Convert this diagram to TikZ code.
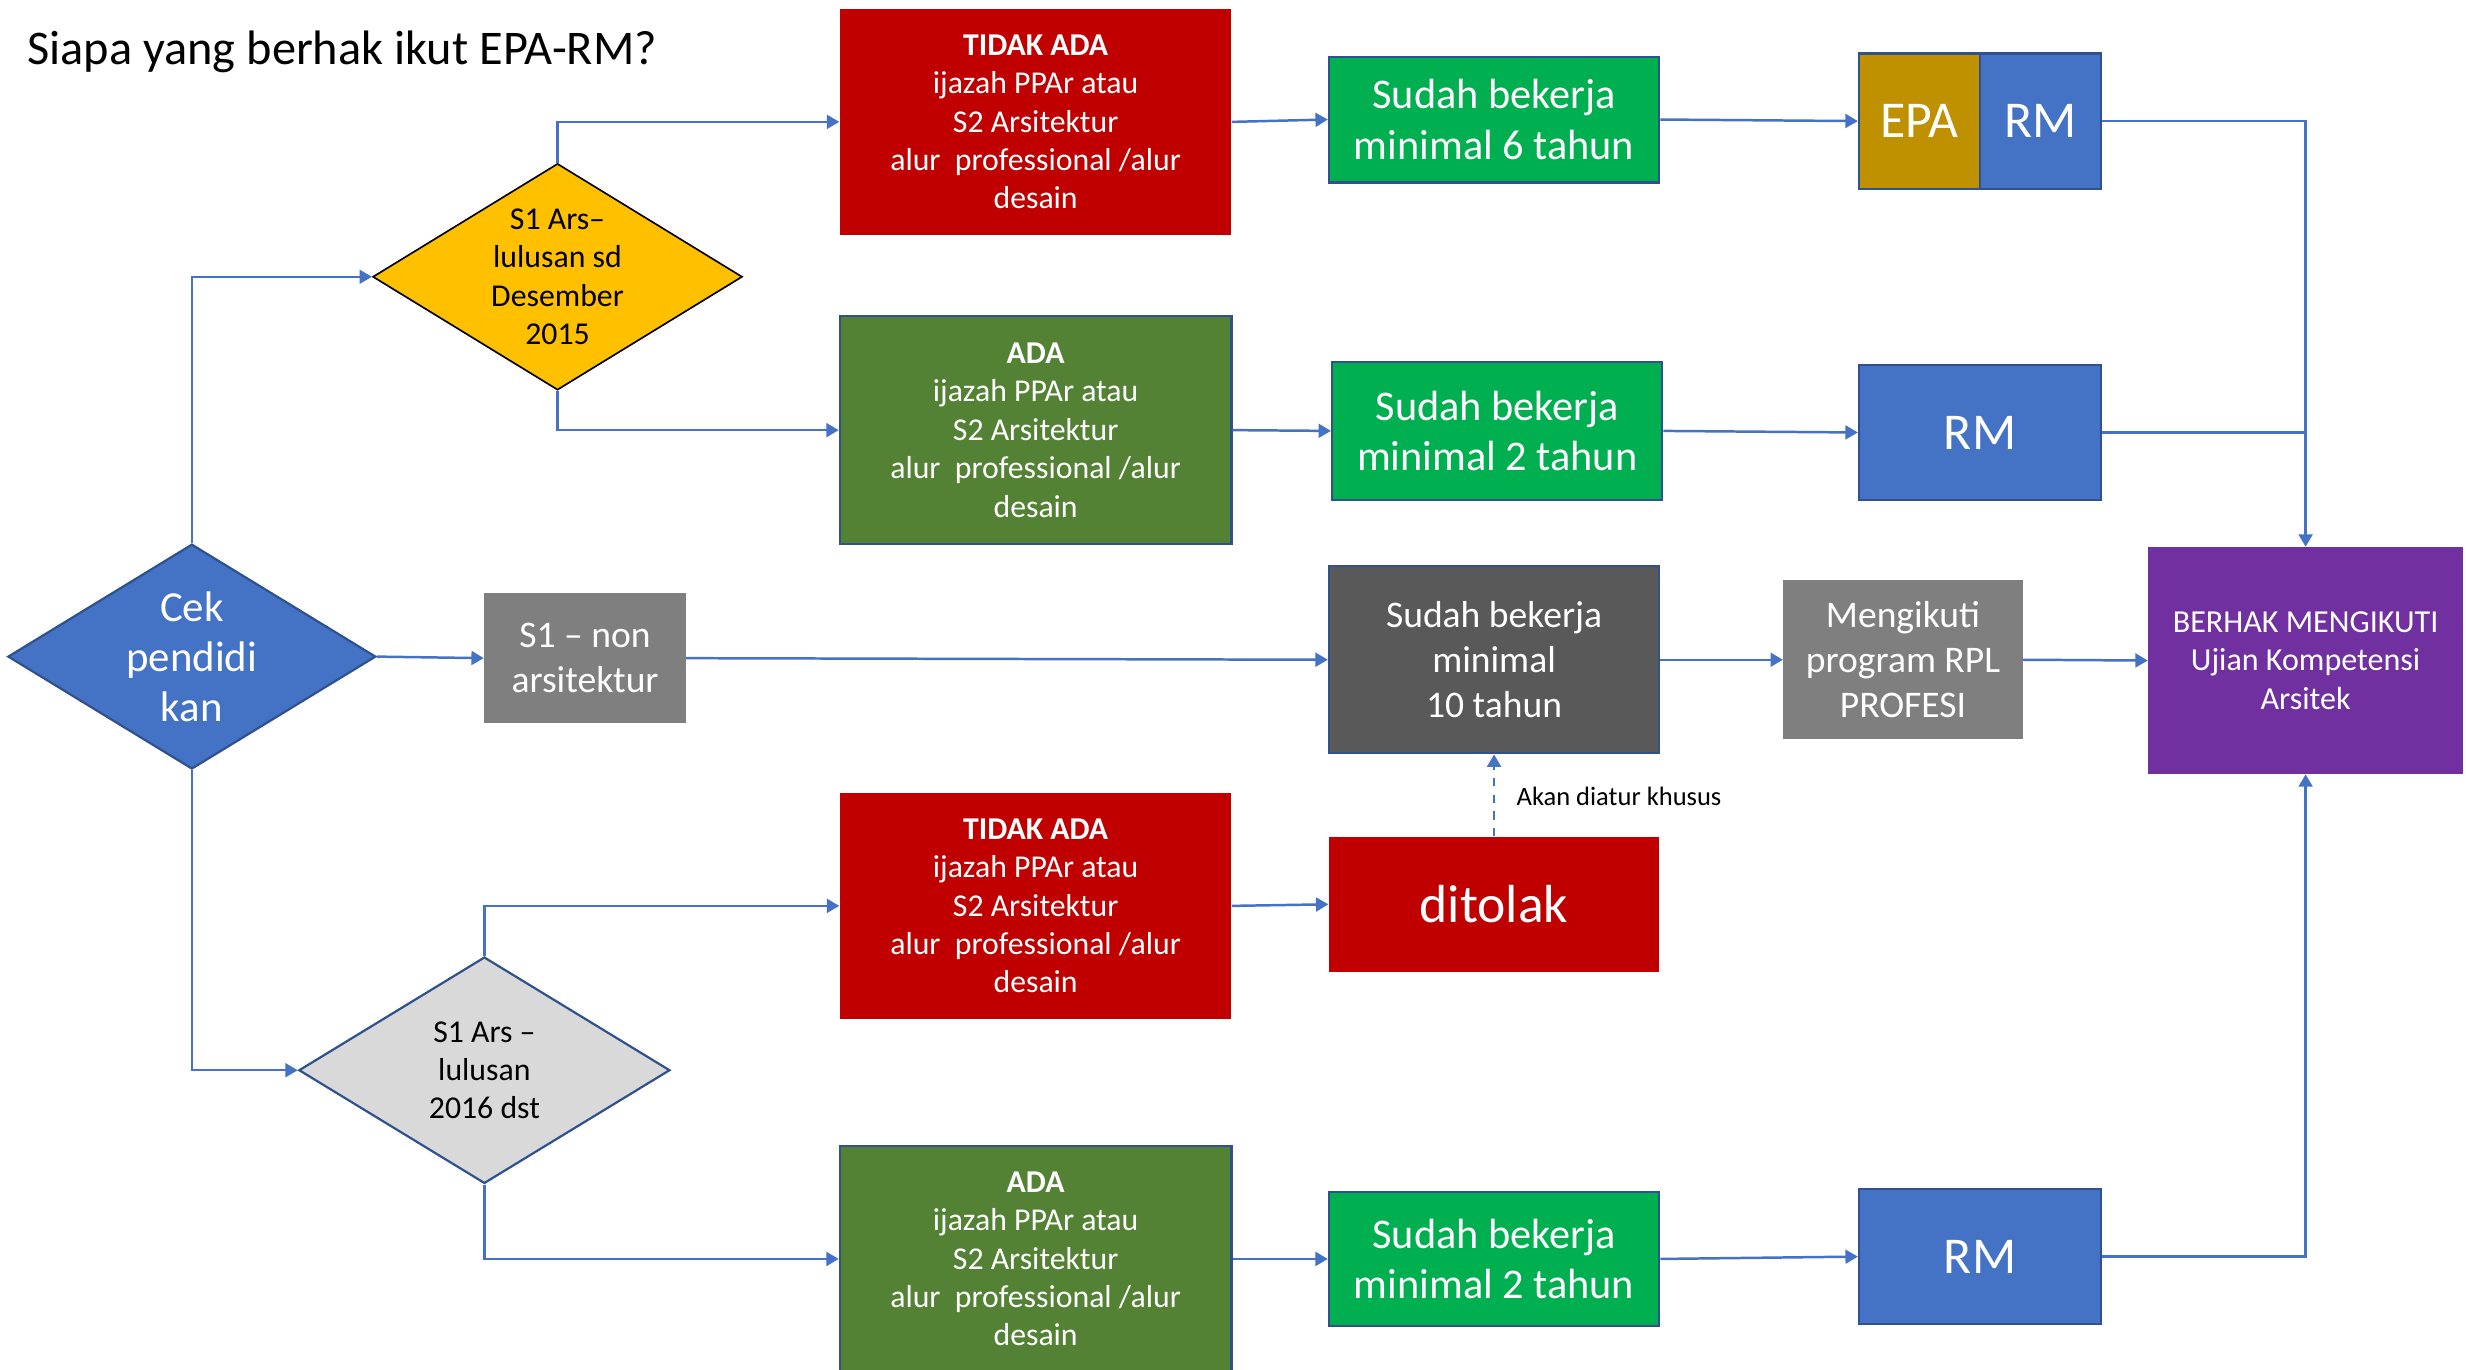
\documentclass[tikz,border=0pt]{standalone}
\usepackage{fontspec}
\setmainfont{Carlito}
\usetikzlibrary{arrows.meta,shapes.geometric}
\definecolor{cblue}{HTML}{4472C4}
\definecolor{bdark}{HTML}{2F528F}
\definecolor{cred}{HTML}{C00000}
\definecolor{dgreen}{HTML}{548235}
\definecolor{bgreen}{HTML}{00B050}
\definecolor{cgray}{HTML}{7F7F7F}
\definecolor{dgray}{HTML}{595959}
\definecolor{cyellow}{HTML}{FFC000}
\definecolor{lgray}{HTML}{D9D9D9}
\definecolor{cgold}{HTML}{BF9000}
\definecolor{cpurple}{HTML}{7030A0}
\begin{document}
\begin{tikzpicture}[x=0.02cm,y=-0.02cm,
  box/.style={rectangle, inner sep=0pt, align=center, text=white},
  bord/.style={draw=bdark, line width=0.8pt},
  sml/.style={font=\fontsize{11.5}{13.9}\selectfont},
  big/.style={font=\fontsize{15.3}{18.2}\selectfont},
  mid/.style={font=\fontsize{13.6}{16.2}\selectfont},
  huge/.style={font=\fontsize{18.7}{22}\selectfont},
  dia/.style={diamond, inner sep=0pt},
  conn/.style={draw=cblue, line width=0.9pt, -{Triangle[length=4.5pt,width=5pt]}},
  plain/.style={draw=cblue, line width=0.9pt}]
\useasboundingbox (0,0) rectangle (1568,871);

% title
\node[anchor=base west, inner sep=0pt, font=\fontsize{17.5}{21}\selectfont] (title) at (17,40.7) {Siapa yang berhak ikut EPA-RM?};

% diamonds
\node[dia, fill=cblue, draw=bdark, line width=0.8pt, minimum width=4.68cm, minimum height=2.86cm] (cek) at (122,417.5) {};
\node[align=center, text=white, font=\fontsize{15.5}{18.2}\selectfont] (cekt) at (cek.center) {Cek\\pendidi\\kan};

\node[dia, fill=cyellow, draw=black, line width=0.6pt, minimum width=4.7cm, minimum height=2.88cm] (d1) at (354.5,176) {};
\node[align=center, font=\fontsize{11.5}{13.9}\selectfont] (d1t) at (d1.center) {S1 Ars--\\lulusan sd\\Desember\\2015};

\node[dia, fill=lgray, draw=bdark, line width=0.8pt, minimum width=4.72cm, minimum height=2.88cm] (d2) at (308,680.5) {};
\node[align=center, font=\fontsize{11.5}{13.9}\selectfont] (d2t) at (d2.center) {S1 Ars --\\lulusan\\2016 dst};

% column 1 boxes
\node[box, sml, fill=cred, minimum width=4.98cm, minimum height=2.88cm] (redT) at (658.5,77.5) {\textbf{TIDAK ADA}\\ijazah PPAr atau\\S2 Arsitektur\\alur\ \ professional /alur\\desain};
\node[box, sml, fill=dgreen, bord, minimum width=4.98cm, minimum height=2.9cm] (greenA) at (658.5,273.5) {\textbf{ADA}\\ijazah PPAr atau\\S2 Arsitektur\\alur\ \ professional /alur\\desain};
\node[box, mid, fill=cgray, minimum width=2.56cm, minimum height=1.66cm] (s1non) at (372,418.5) {S1 -- non\\arsitektur};
\node[box, sml, fill=cred, minimum width=4.98cm, minimum height=2.88cm] (redB) at (658.5,576) {\textbf{TIDAK ADA}\\ijazah PPAr atau\\S2 Arsitektur\\alur\ \ professional /alur\\desain};
\node[box, sml, fill=dgreen, bord, minimum width=4.98cm, minimum height=2.88cm] (greenB) at (658.5,800.5) {\textbf{ADA}\\ijazah PPAr atau\\S2 Arsitektur\\alur\ \ professional /alur\\desain};

% column 2 boxes
\node[box, big, fill=bgreen, bord, minimum width=4.2cm, minimum height=1.6cm] (w6) at (950,76) {Sudah bekerja\\minimal 6 tahun};
\node[box, big, fill=bgreen, bord, minimum width=4.2cm, minimum height=1.76cm] (w2a) at (952,274) {Sudah bekerja\\minimal 2 tahun};
\node[box, mid, fill=dgray, bord, minimum width=4.2cm, minimum height=2.38cm] (w10) at (950,419.5) {Sudah bekerja\\minimal\\10 tahun};
\node[box, fill=cred, font=\fontsize{19.4}{24}\selectfont, minimum width=4.2cm, minimum height=1.72cm] (ditolak) at (950,575) {ditolak};
\node[box, big, fill=bgreen, bord, minimum width=4.2cm, minimum height=1.7cm] (w2b) at (950,800.5) {Sudah bekerja\\minimal 2 tahun};

% column 3 boxes
\node[box, huge, fill=cgold, bord, minimum width=1.54cm, minimum height=1.72cm] (epa) at (1220.5,77) {EPA};
\node[box, huge, fill=cblue, bord, minimum width=1.54cm, minimum height=1.72cm] (rm0) at (1297.5,77) {RM};
\node[box, huge, fill=cblue, bord, minimum width=3.08cm, minimum height=1.72cm] (rm1) at (1259,275) {RM};
\node[box, mid, fill=cgray, minimum width=3.04cm, minimum height=2.02cm] (rpl) at (1210,419.5) {Mengikuti\\program RPL\\PROFESI};
\node[box, huge, fill=cblue, bord, minimum width=3.08cm, minimum height=1.72cm] (rm2) at (1259,799) {RM};

% final box
\node[box, font=\fontsize{11.6}{14}\selectfont, fill=cpurple, minimum width=4.0cm, minimum height=2.88cm] (berhak) at (1466,420) {BERHAK MENGIKUTI\\Ujian Kompetensi\\Arsitek};

% connectors
\draw[conn] (cek.north) |- (d1.west);
\draw[conn] (cek.south) |- (d2.west);
\draw[conn] (cek.east) -- (s1non.west);
\draw[conn] (d1.north) |- (redT.west);
\draw[conn] (d1.south) |- (greenA.west);
\draw[conn] (d2.north) |- (redB.west);
\draw[conn] (d2.south) |- (greenB.west);
\draw[conn] (redT.east) -- (w6.west);
\draw[conn] (greenA.east) -- (w2a.west);
\draw[conn] (redB.east) -- (ditolak.west);
\draw[conn] (greenB.east) -- (w2b.west);
\draw[conn] (s1non.east) -- (w10.west);
\draw[conn] (w10.east) -- (rpl.west);
\draw[conn] (rpl.east) -- (berhak.west);
\draw[conn] (w6.east) -- (epa.west);
\draw[conn] (w2a.east) -- (rm1.west);
\draw[conn] (w2b.east) -- (rm2.west);
\draw[conn] (rm0.east) -| (berhak.north);
\draw[plain] (rm1.east) -- (rm1.east -| berhak.north);
\draw[conn] (rm2.east) -| (berhak.south);
\draw[conn, dashed] (ditolak.north) -- (w10.south);
\node[anchor=west, inner sep=0pt, font=\fontsize{9.6}{12}\selectfont] (akan) at (964,506.5) {Akan diatur khusus};
\end{tikzpicture}
\end{document}
